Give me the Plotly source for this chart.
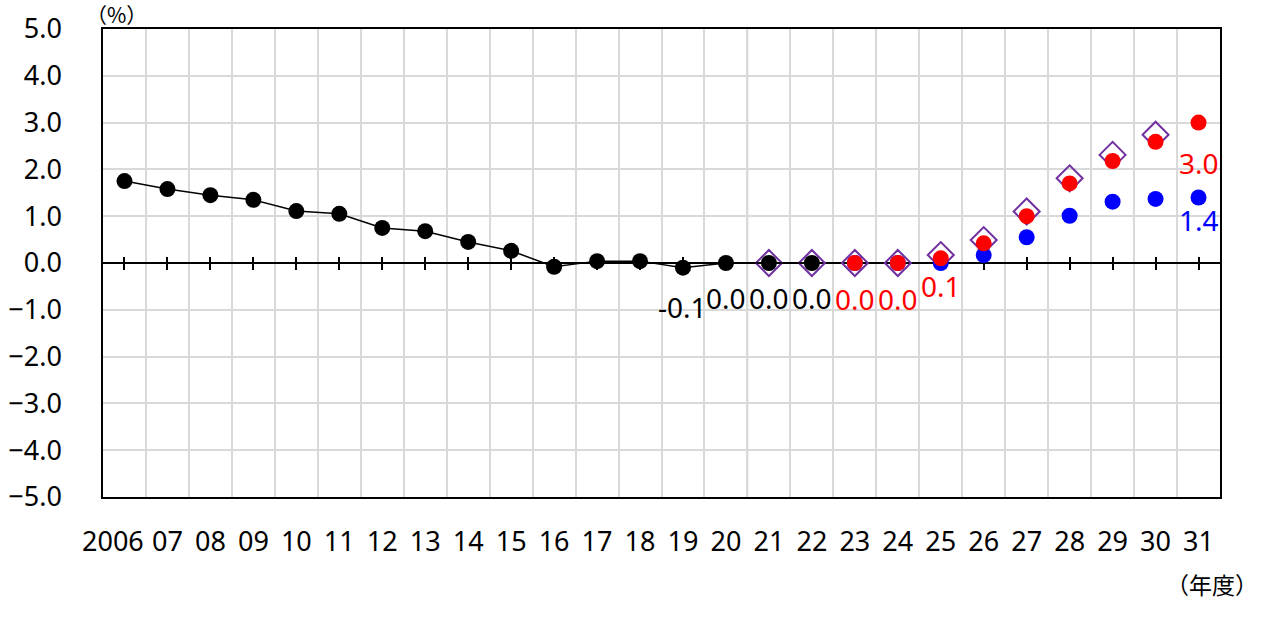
import plotly.graph_objects as go

# Fiscal-year categories (2006 .. 2031)
years = ["2006", "07", "08", "09", "10", "11", "12", "13", "14", "15", "16", "17", "18",
         "19", "20", "21", "22", "23", "24", "25", "26", "27", "28", "29", "30", "31"]

# Actual values (2006-2022), black line with dots
actual_years = years[:17]
actual = [1.75, 1.58, 1.45, 1.35, 1.11, 1.05, 0.75, 0.68, 0.45, 0.26,
          -0.08, 0.04, 0.04, -0.1, 0.0, 0.0, 0.0]

# Previous projection, open purple diamonds (2021-2030)
prev_years = years[15:25]
prev = [0.0, 0.0, 0.0, 0.0, 0.17, 0.49, 1.1, 1.81, 2.31, 2.74]

# Scenario A, red dots (2023-2031)
red_years = years[17:]
red = [0.0, 0.0, 0.1, 0.42, 1.0, 1.7, 2.18, 2.59, 3.0]

# Scenario B, blue dots (2023-2031)
blue_years = years[17:]
blue = [0.0, 0.0, 0.0, 0.17, 0.55, 1.01, 1.31, 1.37, 1.4]

pos = {y: i for i, y in enumerate(years)}
FONT = "Noto Sans"
GRID = "#d9d9d9"
TICK_SIZE = 27

fig = go.Figure()

fig.add_trace(go.Scatter(
    x=[pos[y] for y in prev_years], y=prev, mode="markers",
    marker=dict(symbol="diamond-open", size=20, color="#7030a0", line=dict(width=2, color="#7030a0")),
    showlegend=False, hoverinfo="skip"))
fig.add_trace(go.Scatter(
    x=[pos[y] for y in blue_years], y=blue, mode="markers",
    marker=dict(symbol="circle", size=16, color="#0000ff"),
    showlegend=False, hoverinfo="skip"))
fig.add_trace(go.Scatter(
    x=[pos[y] for y in red_years], y=red, mode="markers",
    marker=dict(symbol="circle", size=16, color="#ff0000"),
    showlegend=False, hoverinfo="skip"))
fig.add_trace(go.Scatter(
    x=[pos[y] for y in actual_years], y=actual, mode="lines+markers",
    line=dict(color="black", width=1.5),
    marker=dict(symbol="circle", size=16, color="black"),
    showlegend=False, hoverinfo="skip"))

# empty traces so the zero-line tick axes get their own subplot
for ax in ("x2", "x3"):
    fig.add_trace(go.Scatter(x=[], y=[], xaxis=ax, yaxis="y", showlegend=False, hoverinfo="skip"))

# value labels: (series years, series values, category, colour, vertical offset px)
label_specs = [
    (actual_years, actual, "19", "black", -39),
    (actual_years, actual, "20", "black", -35),
    (actual_years, actual, "21", "black", -35),
    (actual_years, actual, "22", "black", -35),
    (red_years, red, "23", "#ff0000", -36),
    (red_years, red, "24", "#ff0000", -36),
    (red_years, red, "25", "#ff0000", -28),
    (red_years, red, "31", "#ff0000", -40),
    (blue_years, blue, "31", "#0000ff", -23),
]
for ys, vals, yr, col, shift in label_specs:
    v = vals[ys.index(yr)]
    fig.add_annotation(x=pos[yr], y=v, text=f"{v:.1f}", showarrow=False,
                       yshift=shift, font=dict(family=FONT, size=28, color=col))

# separator between actual and projected years
fig.add_shape(type="line", xref="x", yref="y domain", x0=pos["20"] + 0.5, x1=pos["20"] + 0.5,
              y0=0, y1=1, line=dict(color="#a6a6a6", width=1.5), layer="below")

fig.add_annotation(xref="paper", yref="paper", x=0, y=1, xanchor="center", yanchor="middle",
                   xshift=13, yshift=15, text="（%）", showarrow=False,
                   font=dict(family="Noto Sans CJK JP", size=21, color="black"))
fig.add_annotation(xref="paper", yref="paper", x=1, y=0, xanchor="right", yanchor="middle",
                   xshift=40, yshift=-87, text="（年度）", showarrow=False,
                   font=dict(family="Noto Sans CJK JP", size=23, color="black"))

# the four-digit first year label sits left of its category centre
fig.add_annotation(xref="x", yref="paper", x=pos[years[0]], y=0, xanchor="right", yanchor="middle",
                   xshift=22, yshift=-43, text=years[0], showarrow=False,
                   font=dict(family=FONT, size=TICK_SIZE, color="black"))

idx = list(range(len(years)))
tick_text = [""] + years[1:]
common_x = dict(range=[-0.5, len(years) - 0.5], zeroline=False, fixedrange=True)

fig.update_layout(
    width=1277, height=624,
    margin=dict(l=103, r=57, t=29, b=127, autoexpand=False),
    paper_bgcolor="white", plot_bgcolor="white",
    font=dict(family=FONT, color="black"),
    xaxis=dict(
        **common_x, tickmode="array", tickvals=idx, ticktext=tick_text, tickangle=0,
        automargin=False,
        showgrid=False, ticks="", ticklabelstandoff=20,
        tickfont=dict(family=FONT, size=TICK_SIZE, color="black"),
        minor=dict(tickmode="array", tickvals=[i + 0.5 for i in idx[:-1]],
                   showgrid=True, gridcolor=GRID, gridwidth=1.5, ticks=""),
        showline=True, linecolor="black", linewidth=1.5, mirror=True,
    ),
    xaxis2=dict(
        **common_x, overlaying="x", matches="x", anchor="free", position=0.5,
        tickmode="array", tickvals=idx, showticklabels=False,
        ticks="outside", ticklen=6, tickwidth=1.5, tickcolor="black",
        showgrid=False, showline=True, linecolor="black", linewidth=1.5, layer="below traces",
    ),
    xaxis3=dict(
        **common_x, overlaying="x", matches="x", anchor="free", position=0.5,
        tickmode="array", tickvals=idx, showticklabels=False,
        ticks="inside", ticklen=6, tickwidth=1.5, tickcolor="black",
        showgrid=False, showline=False, layer="below traces",
    ),
    yaxis=dict(
        range=[-5, 5], tickmode="linear", tick0=-5, dtick=1, tickformat=".1f",
        automargin=False,
        showgrid=True, gridcolor=GRID, gridwidth=1.5, zeroline=False,
        ticks="", ticklabelstandoff=34,
        tickfont=dict(family=FONT, size=TICK_SIZE, color="black"),
        showline=True, linecolor="black", linewidth=1.5, mirror=True, fixedrange=True,
    ),
)

fig.write_html("out.html")
